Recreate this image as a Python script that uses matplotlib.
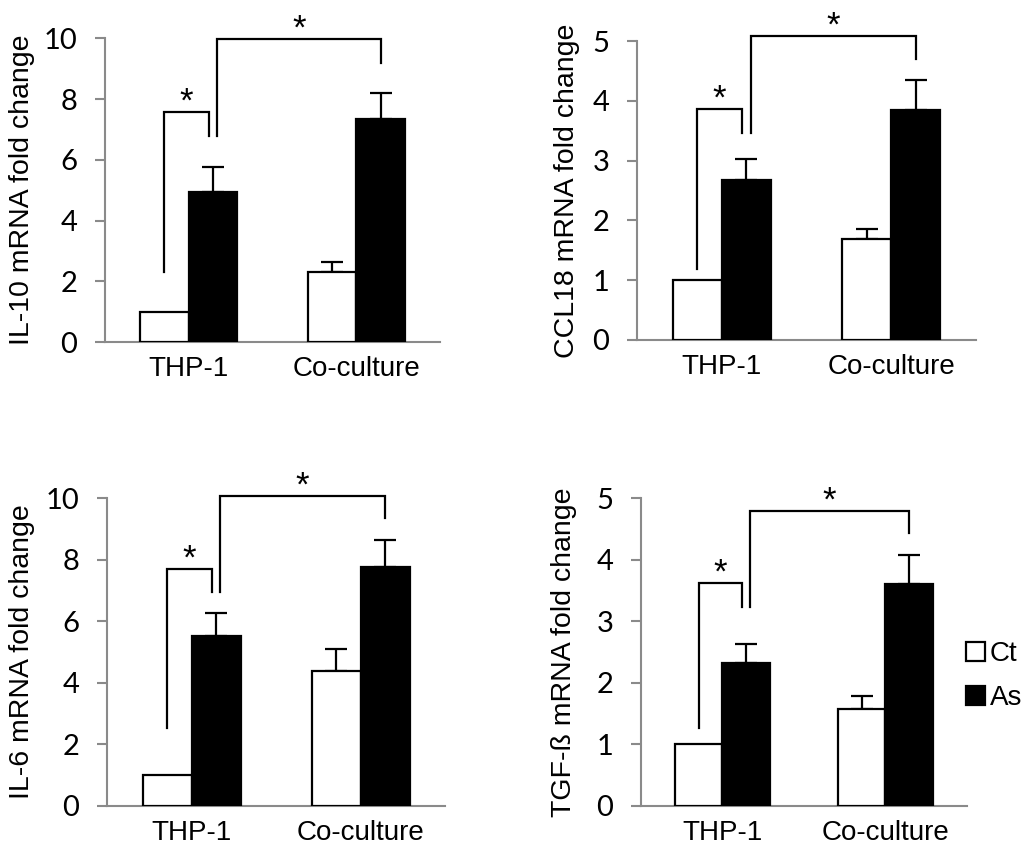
import numpy as np
import matplotlib.pyplot as plt

# values
groups = ["THP-1", "Co-culture"]
series = ["Ct", "As"]

il10_ct = [1.0, 2.3]
il10_as = [4.95, 7.35]
il10_ct_err = [0.0, 0.35]
il10_as_err = [0.8, 0.85]

ccl18_ct = [1.0, 1.69]
ccl18_as = [2.68, 3.85]
ccl18_ct_err = [0.0, 0.17]
ccl18_as_err = [0.34, 0.5]

il6_ct = [1.0, 4.38]
il6_as = [5.52, 7.75]
il6_ct_err = [0.0, 0.72]
il6_as_err = [0.76, 0.9]

tgf_ct = [1.0, 1.58]
tgf_as = [2.32, 3.6]
tgf_ct_err = [0.0, 0.21]
tgf_as_err = [0.31, 0.48]

# significance brackets: (left foot, top, right foot)
il10_sig = [(2.3, 7.57, 6.78), (6.78, 9.97, 9.2)]
ccl18_sig = [(1.19, 3.86, 3.46), (3.46, 5.08, 4.7)]
il6_sig = [(2.53, 7.7, 6.95), (6.95, 10.06, 9.35)]
tgf_sig = [(1.27, 3.62, 3.23), (3.23, 4.79, 4.43)]

font = "Liberation Sans"
gray = "#8a8a8a"
w = 0.29

fig = plt.figure(figsize=(10.33, 8.51), dpi=100)


def panel(rect, ylabel, ct, ce, asv, ae, ymax, step, sig, labx):
    ax = fig.add_axes(rect)
    x = np.arange(len(groups))
    b1 = ax.bar(x - w / 2, ct, w, color="white", edgecolor="black",
                linewidth=1.6, label=series[0], zorder=3)
    b2 = ax.bar(x + w / 2, asv, w, color="black", edgecolor="black",
                linewidth=1.6, label=series[1], zorder=3)
    for xs, vals, errs in [(x - w / 2, ct, ce), (x + w / 2, asv, ae)]:
        for xi, v, e in zip(xs, vals, errs):
            if e > 0:
                ax.errorbar(xi, v, yerr=[[0], [e]], color="black",
                            capsize=8, capthick=1.6, elinewidth=1.6, zorder=2)
    # brackets
    xl = [(-w / 2, w / 2 - 0.025), (w / 2 + 0.025, 1 + w / 2)]
    for (x0, x1), (h0, top, h1) in zip(xl, sig):
        ax.plot([x0, x0, x1, x1], [h0, top, top, h1], color="black",
                lw=1.6, clip_on=False, solid_joinstyle="miter")
        ax.annotate("*", ((x0 + x1) / 2, top), xytext=(0, 0.5),
                    textcoords="offset points", ha="center", va="baseline",
                    fontsize=25, family=font, annotation_clip=False)
    ax.set_xlim(-0.5, 1.5)
    ax.set_ylim(0, ymax)
    ax.set_yticks(np.arange(0, ymax + step / 2, step))
    ax.set_xticks(x)
    ax.set_xticklabels(groups, family=font, fontsize=20)
    ax.tick_params(axis="x", length=0, pad=10)
    ax.tick_params(axis="y", length=7, width=1.5, color=gray, pad=13,
                   labelsize=21)
    for t in ax.get_yticklabels():
        t.set_family("Lato")
    for s in ["top", "right"]:
        ax.spines[s].set_visible(False)
    for s in ["left", "bottom"]:
        ax.spines[s].set_color(gray)
        ax.spines[s].set_linewidth(1.5)
    ax.set_ylabel(ylabel, family=font, fontsize=20.5)
    ax.yaxis.set_label_coords(labx, 0.5)
    return ax, b1, b2


panel([0.1016, 0.598, 0.3244, 0.357], "IL-10 mRNA fold change",
      il10_ct, il10_ct_err, il10_as, il10_as_err, 10, 2, il10_sig, -0.209)
panel([0.6167, 0.6005, 0.3281, 0.3513], "CCL18 mRNA fold change",
      ccl18_ct, ccl18_ct_err, ccl18_as, ccl18_as_err, 5, 1, ccl18_sig, -0.168)
panel([0.1036, 0.0529, 0.3272, 0.3619], "IL-6 mRNA fold change",
      il6_ct, il6_ct_err, il6_as, il6_as_err, 10, 2, il6_sig, -0.213)
ax, b1, b2 = panel([0.6205, 0.0529, 0.3155, 0.3619], "TGF-ß mRNA fold change",
                   tgf_ct, tgf_ct_err, tgf_as, tgf_as_err, 5, 1, tgf_sig, -0.196)

fig.legend(handles=[b1, b2], labels=series, loc="center left",
           bbox_to_anchor=(966 / 1033, 1 - 676 / 851), frameon=False,
           prop={"family": font, "size": 20}, handlelength=0.7,
           handleheight=0.7, handletextpad=0.15, labelspacing=0.65,
           borderpad=0, borderaxespad=0)

fig.savefig("out.png", dpi=100)
